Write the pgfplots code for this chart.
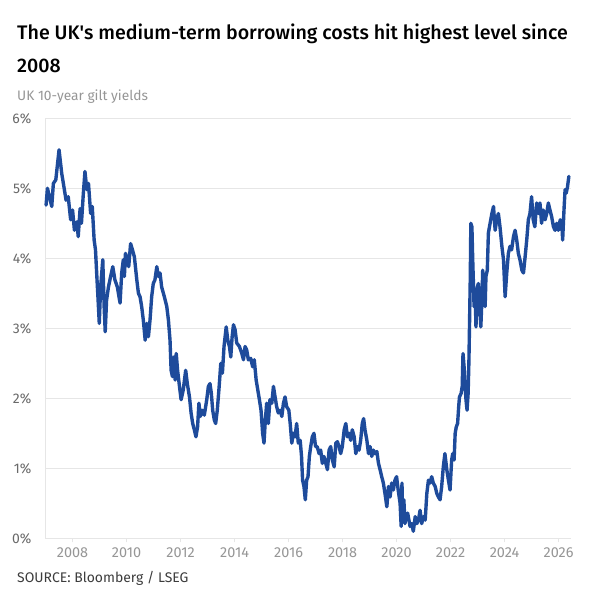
\documentclass[border=0pt]{standalone}
\usepackage{fontspec}
\setmainfont{Fira Sans}
\newfontfamily\titlefont{Fira Sans Medium}
\usepackage{pgfplots}
\pgfplotsset{compat=1.18}
\usepackage{pgfplotstable}

\definecolor{lineblue}{RGB}{30,75,155}
\definecolor{gridgray}{RGB}{230,230,230}
\definecolor{xlabgray}{RGB}{150,150,150}
\definecolor{ylabgray}{RGB}{105,105,105}
\definecolor{subgray}{RGB}{150,150,150}
\definecolor{srcgray}{RGB}{60,60,60}

% UK 10-year gilt yield (%), decimal year
\pgfplotstableread{
year yield
2007.02 4.76
2007.07 5.00
2007.23 4.74
2007.29 5.07
2007.38 5.12
2007.50 5.55
2007.60 5.21
2007.66 5.07
2007.76 4.83
2007.84 4.88
2007.93 4.55
2008.00 4.69
2008.07 4.40
2008.16 4.52
2008.21 4.31
2008.28 4.71
2008.33 4.50
2008.40 4.93
2008.46 5.24
2008.53 4.98
2008.59 5.07
2008.67 4.64
2008.73 4.74
2008.80 4.26
2008.85 4.12
2008.90 3.74
2008.94 3.45
2008.99 3.07
2009.04 3.59
2009.12 3.98
2009.17 3.31
2009.21 2.95
2009.26 3.40
2009.33 3.59
2009.41 3.74
2009.49 3.88
2009.57 3.69
2009.66 3.59
2009.76 3.36
2009.82 3.79
2009.88 3.98
2009.92 3.74
2009.96 4.07
2010.03 4.00
2010.08 3.88
2010.15 4.21
2010.22 4.12
2010.29 4.02
2010.38 3.69
2010.44 3.50
2010.50 3.45
2010.56 3.31
2010.62 3.12
2010.69 2.83
2010.75 3.07
2010.81 2.88
2010.87 3.12
2010.93 3.45
2010.99 3.64
2011.05 3.69
2011.12 3.88
2011.18 3.74
2011.24 3.79
2011.30 3.59
2011.40 3.45
2011.49 3.31
2011.55 3.12
2011.61 2.83
2011.65 2.40
2011.70 2.31
2011.75 2.59
2011.80 2.26
2011.84 2.64
2011.89 2.40
2011.96 2.17
2012.02 1.98
2012.10 2.12
2012.19 2.40
2012.25 2.21
2012.33 2.02
2012.39 1.79
2012.45 1.64
2012.51 1.55
2012.57 1.45
2012.63 1.59
2012.68 1.93
2012.73 1.74
2012.80 1.83
2012.88 1.76
2012.97 1.98
2013.03 2.17
2013.09 2.21
2013.14 2.07
2013.19 1.83
2013.25 1.69
2013.30 1.64
2013.36 1.83
2013.43 2.17
2013.49 2.50
2013.55 2.36
2013.61 2.74
2013.69 3.02
2013.75 2.83
2013.81 2.74
2013.86 2.59
2013.91 2.88
2013.96 3.05
2014.02 2.98
2014.08 2.79
2014.18 2.74
2014.27 2.64
2014.33 2.55
2014.39 2.74
2014.45 2.69
2014.51 2.55
2014.60 2.57
2014.67 2.45
2014.73 2.55
2014.80 2.26
2014.86 2.12
2014.92 1.98
2014.98 1.83
2015.04 1.50
2015.09 1.36
2015.14 1.69
2015.19 1.93
2015.25 1.64
2015.31 1.98
2015.38 1.93
2015.44 2.17
2015.50 2.02
2015.56 1.88
2015.62 1.79
2015.69 1.83
2015.75 1.74
2015.81 1.93
2015.87 2.02
2015.93 1.88
2016.01 1.83
2016.06 1.64
2016.12 1.36
2016.18 1.50
2016.24 1.45
2016.30 1.64
2016.36 1.36
2016.43 1.40
2016.48 1.17
2016.52 0.83
2016.57 0.74
2016.62 0.55
2016.67 0.83
2016.72 0.88
2016.77 1.17
2016.82 1.31
2016.88 1.45
2016.94 1.50
2017.00 1.31
2017.06 1.31
2017.13 1.21
2017.19 1.26
2017.25 1.07
2017.31 1.17
2017.38 1.07
2017.44 0.98
2017.50 1.26
2017.56 1.31
2017.62 1.12
2017.69 1.02
2017.75 1.36
2017.81 1.38
2017.87 1.31
2017.93 1.21
2017.99 1.31
2018.06 1.55
2018.12 1.64
2018.18 1.45
2018.24 1.50
2018.30 1.40
2018.36 1.55
2018.43 1.45
2018.49 1.21
2018.55 1.31
2018.61 1.26
2018.67 1.40
2018.73 1.64
2018.78 1.71
2018.83 1.55
2018.90 1.40
2018.96 1.21
2019.02 1.31
2019.08 1.17
2019.14 1.26
2019.20 1.21
2019.27 1.24
2019.33 1.07
2019.39 0.98
2019.45 0.88
2019.51 0.79
2019.57 0.64
2019.64 0.45
2019.70 0.74
2019.76 0.59
2019.82 0.79
2019.88 0.69
2019.94 0.83
2020.00 0.88
2020.06 0.69
2020.13 0.50
2020.17 0.17
2020.20 0.79
2020.23 0.26
2020.27 0.55
2020.31 0.21
2020.35 0.31
2020.41 0.36
2020.50 0.17
2020.56 0.21
2020.62 0.10
2020.69 0.31
2020.75 0.21
2020.81 0.26
2020.87 0.40
2020.93 0.21
2021.00 0.31
2021.06 0.26
2021.12 0.64
2021.18 0.83
2021.24 0.79
2021.30 0.88
2021.36 0.79
2021.43 0.74
2021.49 0.64
2021.55 0.59
2021.61 0.55
2021.67 0.74
2021.73 1.02
2021.79 1.21
2021.86 0.98
2021.92 0.83
2021.98 0.69
2022.04 1.12
2022.08 1.21
2022.13 1.12
2022.17 1.50
2022.21 1.59
2022.26 1.64
2022.30 1.88
2022.33 2.02
2022.39 2.07
2022.43 2.17
2022.46 2.64
2022.50 2.45
2022.54 2.17
2022.57 1.98
2022.61 1.83
2022.65 2.07
2022.68 2.55
2022.70 3.02
2022.73 3.74
2022.75 4.50
2022.79 4.45
2022.82 3.98
2022.85 3.59
2022.87 3.31
2022.91 3.50
2022.94 3.02
2022.99 3.59
2023.03 3.64
2023.07 3.36
2023.12 3.02
2023.16 3.40
2023.19 3.83
2023.24 3.50
2023.28 3.31
2023.31 3.74
2023.36 3.83
2023.40 4.36
2023.44 4.45
2023.53 4.64
2023.59 4.74
2023.65 4.40
2023.71 4.55
2023.77 4.64
2023.83 4.45
2023.90 4.17
2023.96 3.98
2024.02 3.45
2024.08 3.79
2024.14 4.07
2024.20 4.17
2024.26 4.12
2024.33 4.31
2024.39 4.40
2024.45 4.26
2024.51 4.07
2024.57 3.98
2024.64 3.83
2024.70 3.79
2024.76 4.02
2024.82 4.26
2024.88 4.55
2024.94 4.64
2025.00 4.88
2025.06 4.55
2025.12 4.45
2025.19 4.79
2025.25 4.64
2025.31 4.79
2025.37 4.50
2025.43 4.69
2025.50 4.55
2025.56 4.64
2025.62 4.79
2025.68 4.69
2025.74 4.60
2025.81 4.45
2025.87 4.40
2025.93 4.50
2025.99 4.40
2026.06 4.55
2026.12 4.50
2026.15 4.26
2026.20 4.69
2026.24 4.98
2026.28 4.93
2026.33 5.02
2026.38 5.17
}\giltdata

\begin{document}
\begin{tikzpicture}[x=1bp,y=1bp]
\useasboundingbox[fill=white] (0,0) rectangle (606,603);

% headline, standfirst and source line
\node[anchor=base west, inner sep=0pt] at (17,563.5)
  {\titlefont\fontsize{19.7}{23}\selectfont The UK\textquotesingle s medium-term borrowing costs hit highest level since};
\node[anchor=base west, inner sep=0pt] at (17,530.2)
  {\titlefont\fontsize{19.7}{23}\selectfont 2008};
\node[anchor=base west, inner sep=0pt, text=subgray] at (17,502)
  {\fontsize{13.8}{16}\selectfont UK 10-year gilt yields};
\node[anchor=base west, inner sep=0pt, text=srcgray] at (17,20.5)
  {\fontsize{14}{16}\selectfont SOURCE: Bloomberg / LSEG};

\begin{axis}[
  at={(45bp,64.7bp)}, anchor=south west,
  scale only axis, width=526bp, height=420bp,
  xmin=2006.98, xmax=2026.46, ymin=0, ymax=6,
  axis x line*=bottom, axis y line*=left,
  axis line style={draw=gridgray, line width=0.8pt, -},
  ymajorgrids, grid style={draw=gridgray, line width=0.8pt},
  xtick={2008,2010,...,2026},
  xticklabels={2008,2010,2012,2014,2016,2018,2020,2022,2024,2026},
  ytick={0,1,...,6},
  yticklabels={0\%,1\%,2\%,3\%,4\%,5\%,6\%},
  tick align=outside,
  xtick style={draw=gridgray, line width=0.8pt},
  major tick length=4bp,
  ytick style={draw=none},
  xticklabel style={inner sep=0pt, anchor=north, yshift=-5.5bp, text=xlabgray,
    font=\fontsize{14.5}{16}\selectfont},
  yticklabel style={inner sep=0pt, anchor=east, xshift=-9.5bp, text=ylabgray,
    font=\fontsize{14}{16}\selectfont},
  clip=false,
]
\addplot[lineblue, line width=3.4pt, line join=round, line cap=round]
  table[x=year, y=yield] {\giltdata};
\end{axis}
\end{tikzpicture}
\end{document}
